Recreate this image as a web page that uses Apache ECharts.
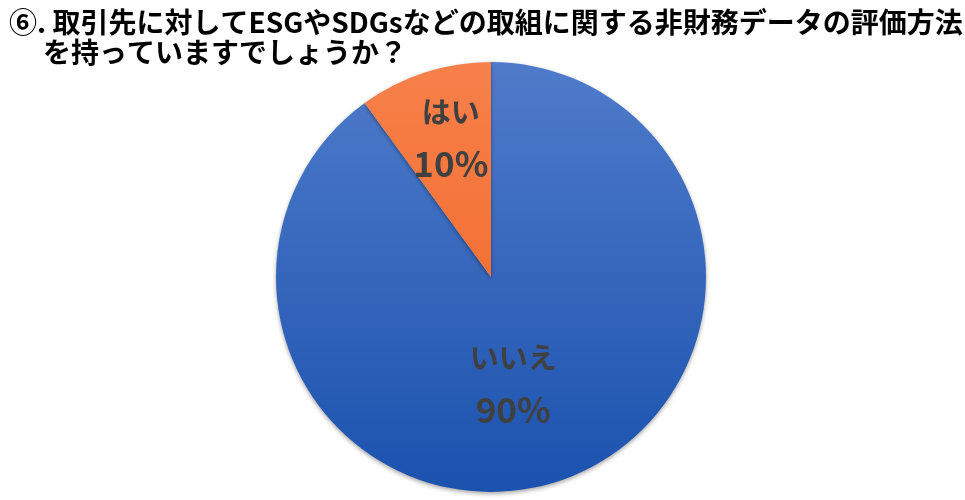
<!DOCTYPE html>
<html><head><meta charset="utf-8">
<script src="https://cdn.jsdelivr.net/npm/echarts@6/dist/echarts.min.js"></script>
<style>html,body{margin:0;padding:0;background:#fff}#c{width:965px;height:500px}</style>
</head><body><div id="c"></div>
<script>
const titleLine1 = '⑥. 取引先に対してESGやSDGsなどの取組に関する非財務データの評価方法';
const titleLine2 = 'を持っていますでしょうか？';
const categories = ['いいえ', 'はい'];
const values = [90, 10];
const colorsTop = ['#4f7bca', '#f7804a'];
const colorsBottom = ['#1b52ae', '#f1621f'];

const chart = echarts.init(document.getElementById('c'), null, {renderer: 'canvas'});
const cx = 491, cy = 277, R = 215;
const font = '"Noto Sans CJK JP", "Noto Sans", sans-serif';
chart.setOption({
  animation: false,
  title: [
    {text: titleLine1, left: 4, top: 3, textStyle: {fontFamily: font, fontWeight: 'bold', fontSize: 28, color: '#000'}},
    {text: titleLine2, left: 38, top: 33, textStyle: {fontFamily: font, fontWeight: 'bold', fontSize: 28, color: '#000'}}
  ],
  series: [{
    type: 'pie',
    center: [cx, cy],
    radius: [0, R],
    startAngle: 90,
    clockwise: true,
    label: {
      show: true, position: 'inside',
      formatter: '{n|{b}}\n{p|{d}%}',
      color: '#404040',
      rich: {
        n: {fontFamily: font, fontWeight: 'bold', fontSize: 29, lineHeight: 52, color: '#404040'},
        p: {fontFamily: font, fontWeight: 'bold', fontSize: 35, lineHeight: 52, color: '#404040'}
      }
    },
    labelLine: {show: false},
    labelLayout: function (p) {
      if (p.dataIndex === 1) return {dx: -6, dy: -34};
      return {dx: -12, dy: 2};
    },
    itemStyle: {shadowColor: 'rgba(0,0,0,0.35)', shadowBlur: 4, shadowOffsetY: 2},
    emphasis: {disabled: true},
    data: categories.map((c, i) => ({
      name: c, value: values[i],
      itemStyle: {
        color: new echarts.graphic.LinearGradient(0, cy - R, 0, cy + R, [
          {offset: 0, color: colorsTop[i]}, {offset: 1, color: colorsBottom[i]}
        ], true)
      }
    }))
  }]
});
</script></body></html>
